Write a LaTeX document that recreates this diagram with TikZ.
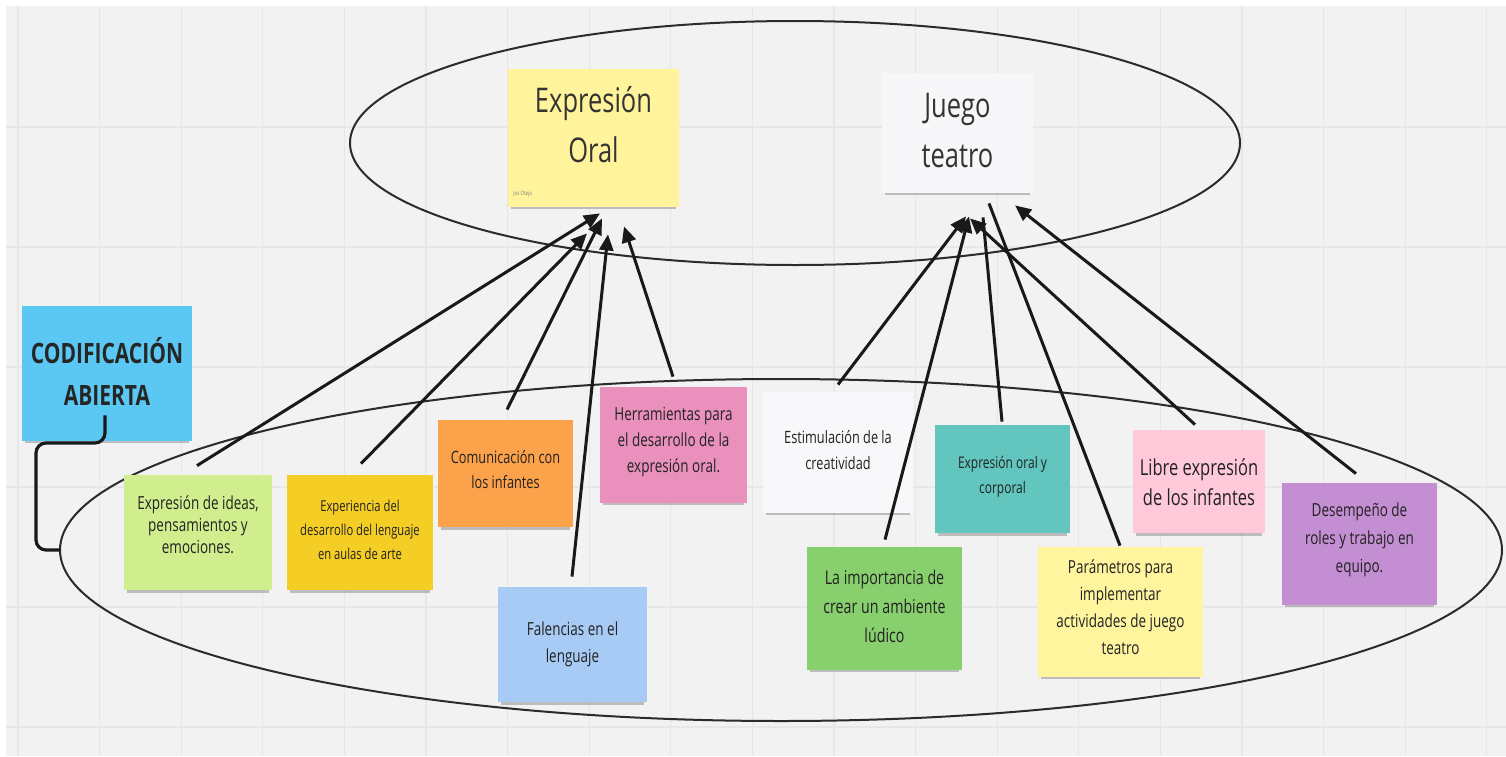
\documentclass[tikz,border=0pt]{standalone}
\usepackage{fontspec}
\setmainfont{Open Sans}[FakeStretch=0.75]
\usetikzlibrary{shapes.geometric,arrows.meta,calc,shadows}
\definecolor{bggray}{HTML}{F2F2F2}
\definecolor{gridc}{HTML}{E7E7E7}
\definecolor{ellc}{HTML}{2B2B2B}
\definecolor{textc}{HTML}{222222}
\definecolor{ccod}{HTML}{5BC8F3}
\definecolor{coral}{HTML}{FFF49C}
\definecolor{cjuego}{HTML}{F7F7F9}
\definecolor{cideas}{HTML}{D1EE8E}
\definecolor{cexper}{HTML}{F4CE25}
\definecolor{ccomun}{HTML}{FCA24A}
\definecolor{cherr}{HTML}{E991BC}
\definecolor{cfalen}{HTML}{A7CBF4}
\definecolor{cestim}{HTML}{F8F8FA}
\definecolor{ccorp}{HTML}{62C6BF}
\definecolor{clibre}{HTML}{FFC9DA}
\definecolor{cludico}{HTML}{88D06E}
\definecolor{cparam}{HTML}{FFF59F}
\definecolor{cdesem}{HTML}{C48ED3}
\begin{document}
\begin{tikzpicture}[x=0.5pt,y=-0.5pt,
  sticky/.style={rectangle, inner sep=0pt, draw=none,
    drop shadow={shadow xshift=0pt, shadow yshift=-2.5pt, shadow scale=0.96, opacity=0.22, fill=black}},
  txt/.style={align=center, inner sep=0pt, text=textc},
  arr/.style={line width=1.5pt, draw=black!90, -{Triangle[length=8pt,width=7pt]}},
  plainline/.style={line width=1.5pt, draw=black!90},
  ell/.style={draw=ellc, line width=1pt, ellipse, inner sep=0pt, outer sep=0pt},
  bracketline/.style={line width=1.6pt, draw=black!90, rounded corners=5pt}
]
\useasboundingbox (0,0) rectangle (1506,756);
\fill[white] (0,0) rectangle (1506,756);
\fill[bggray] (6,6) rectangle (1506,756);
\foreach \k in {0,...,18} \draw[gridc, line width=0.6pt] ({18+81.6*\k},6) -- ({18+81.6*\k},756);
\foreach \yy in {127,247,367,487,607,727} \draw[gridc, line width=0.6pt] (6,\yy) -- (1506,\yy);

% ellipses
\node[ell, minimum width=445pt, minimum height=122pt] (topell) at (795,143) {};
\node[ell, minimum width=721pt, minimum height=171pt] (botell) at (781,550) {};

% sticky notes
\node[sticky, fill=ccod, minimum width=85pt, minimum height=67.5pt] (cod) at (107,373.5) {};
\node[sticky, fill=coral, minimum width=85.5pt, minimum height=69pt] (oral) at (593.5,138) {};
\node[sticky, fill=cjuego, minimum width=75.5pt, minimum height=60pt] (juego) at (957.5,133) {};
\node[sticky, fill=cideas, minimum width=74pt, minimum height=57.5pt] (ideas) at (198,532.5) {};
\node[sticky, fill=cexper, minimum width=73pt, minimum height=57.5pt] (exper) at (360,532.5) {};
\node[sticky, fill=ccomun, minimum width=67.5pt, minimum height=53.5pt] (comun) at (505.5,473.5) {};
\node[sticky, fill=cherr, minimum width=73.5pt, minimum height=58pt] (herr) at (673.5,445) {};
\node[sticky, fill=cfalen, minimum width=74.5pt, minimum height=57.5pt] (falen) at (572.5,644.5) {};
\node[sticky, fill=cestim, minimum width=75pt, minimum height=60.5pt] (estim) at (838,452.5) {};
\node[sticky, fill=ccorp, minimum width=67.5pt, minimum height=54pt] (corp) at (1002.5,479) {};
\node[sticky, fill=clibre, minimum width=66pt, minimum height=51.5pt] (libre) at (1199,481.5) {};
\node[sticky, fill=cludico, minimum width=77.5pt, minimum height=61.5pt] (ludico) at (884.5,608.5) {};
\node[sticky, fill=cparam, minimum width=82.5pt, minimum height=65pt] (param) at (1120.5,612) {};
\node[sticky, fill=cdesem, minimum width=77.5pt, minimum height=61pt] (desem) at (1359.5,544) {};

% texts
\node[txt, font=\fontsize{14}{21}\selectfont\bfseries, text=black!85] (codt) at (107,371) {CODIFICACIÓN\\ABIERTA};
\node[txt, font=\fontsize{17}{25}\selectfont, text=black!80] (oralt) at (593.5,125) {Expresión\\Oral};
\node[txt, font=\fontsize{3}{3}\selectfont, text=black!50, anchor=west] (oralsig) at (513,194) {Jos Oteja};
\node[txt, font=\fontsize{17}{25}\selectfont, text=black!80] (juegot) at (957.5,131) {Juego\\teatro};
\node[txt, font=\fontsize{9}{11}\selectfont] (ideast) at (198,525) {Expresión de ideas,\\pensamientos y\\emociones.};
\node[txt, font=\fontsize{7.5}{12}\selectfont] (expert) at (360,530) {Experiencia del\\desarrollo del lenguaje\\en aulas de arte};
\node[txt, font=\fontsize{8.5}{12.5}\selectfont] (comunt) at (505.5,470) {Comunicación con\\los infantes};
\node[txt, font=\fontsize{9}{13}\selectfont] (herrt) at (673.5,442) {Herramientas para\\el desarrollo de la\\expresión oral.};
\node[txt, font=\fontsize{9}{13.5}\selectfont] (falent) at (572.5,644) {Falencias en el\\lenguaje};
\node[txt, font=\fontsize{8.5}{13}\selectfont] (estimt) at (838,450) {Estimulación de la\\creatividad};
\node[txt, font=\fontsize{8}{12.5}\selectfont] (corpt) at (1002.5,477) {Expresión oral y\\corporal};
\node[txt, font=\fontsize{11}{15}\selectfont] (libret) at (1199,482) {Libre expresión\\de los infantes};
\node[txt, font=\fontsize{9.5}{14.5}\selectfont] (ludicot) at (884.5,606) {La importancia de\\crear un ambiente\\lúdico};
\node[txt, font=\fontsize{9}{13.5}\selectfont] (paramt) at (1120.5,607) {Parámetros para\\implementar\\actividades de juego\\teatro};
\node[txt, font=\fontsize{9}{14}\selectfont] (desemt) at (1359.5,540) {Desempeño de\\roles y trabajo en\\equipo.};

% bracket
\coordinate (brk) at (36,443);
\draw[bracketline] ($(cod.south)+(-2,-26)$) |- (brk) |- (botell.west);

% arrows to Expresión Oral
\draw[arr] ($(ideas.north)+(-1,-9)$) -- ($(oral.south)+(6.5,6)$);
\draw[arr] ($(exper.north)+(1,-11)$) -- ($(oral.south)+(-6.5,26)$);
\draw[arr] ($(comun.north)+(1.5,-10)$) -- ($(oral.south)+(8.5,11)$);
\draw[arr] ($(falen.north)+(-0.5,-10)$) -- ($(oral.south)+(14.5,27)$);
\draw[arr] ($(herr.north)+(-0.5,-10)$) -- ($(oral.south)+(30.5,19)$);

% arrows to Juego teatro
\draw[arr] ($(estim.north)+(0,-7)$) -- ($(juego.south)+(8.5,23)$);
\draw[arr] ($(ludico.north)+(0.5,-7)$) -- ($(juego.south)+(11.5,23)$);
\draw[plainline] ($(corp.north)+(-0.5,-3)$) -- ($(juego.south)+(25.5,24)$);
\draw[plainline] ($(param.north)+(-0.5,-1)$) -- ($(juego.south)+(31.5,10)$);
\draw[arr] ($(libre.north)+(-4,-5)$) -- ($(juego.south)+(12.5,25)$);
\draw[arr] ($(desem.north)+(-3.5,-9)$) -- ($(juego.south)+(57.5,12)$);
\end{tikzpicture}
\end{document}
